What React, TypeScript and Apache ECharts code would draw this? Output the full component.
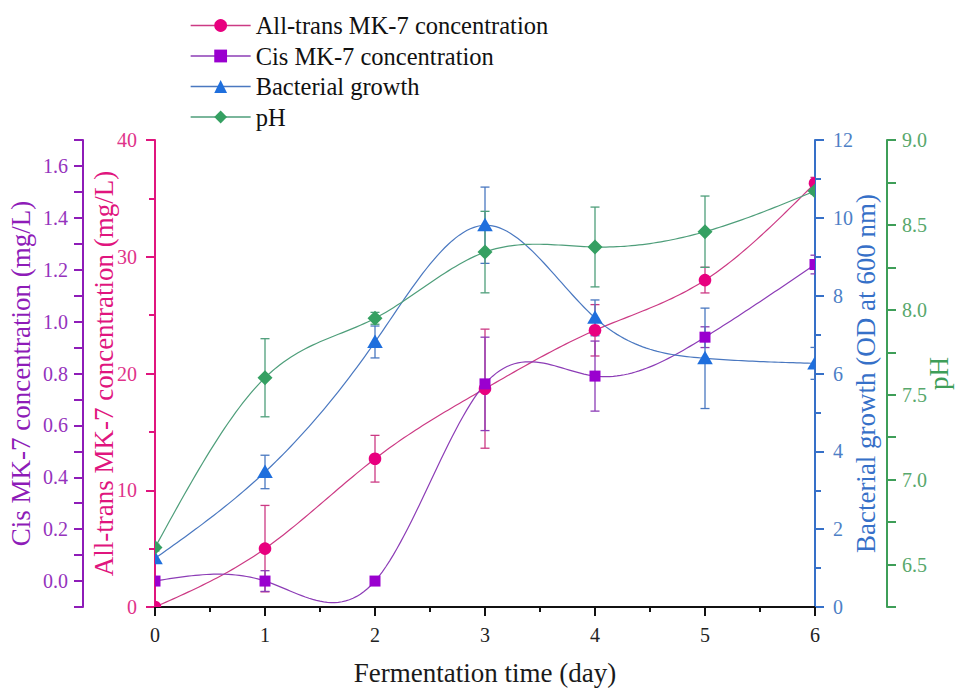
import React, { useEffect, useRef } from 'react';
import * as echarts from 'echarts';

// ---- Data ----
const days = [0, 1, 2, 3, 4, 5, 6];
const transMK7 = [0, 5.0, 12.7, 18.7, 23.7, 28.0, 36.3];
const transMK7Err = [0, 3.7, 2.0, 5.1, 2.2, 1.1, 0.5];
const cisMK7 = [0.0, 0.0, 0.0, 0.76, 0.79, 0.94, 1.22];
const cisMK7Err = [0, 0.04, 0, 0.18, 0.135, 0.04, 0.036];
const growth = [1.25, 3.47, 6.81, 9.81, 7.43, 6.39, 6.26];
const growthErr = [0, 0.43, 0.41, 0.98, 0.46, 1.29, 0.41];
const pH = [6.6, 7.6, 7.95, 8.34, 8.37, 8.46, 8.7];
const pHErr = [0.02, 0.23, 0.035, 0.24, 0.235, 0.21, 0.02];

const seriesNames = [
  'All-trans MK-7 concentration',
  'Cis MK-7 concentration',
  'Bacterial growth',
  'pH',
];

const FONT = "'Liberation Serif', 'Times New Roman', serif";

const C = {
  pink: { marker: '#E8007F', line: '#CC3A84', axis: '#E0157E', label: '#E0338A' },
  purple: { marker: '#9A00CF', line: '#8C3CB6', axis: '#8E1CB8', label: '#9533BD' },
  blue: { marker: '#1F6FDD', line: '#4A78C0', axis: '#3670C8', label: '#4D7FC6' },
  green: { marker: '#35A062', line: '#4E9E7A', axis: '#3E9E58', label: '#58A86C' },
};

// natural cubic spline through the measured points (rendering only)
function splinePoints(xs: number[], ys: number[], perSeg: number): number[][] {
  const n = xs.length;
  const h: number[] = [];
  for (let i = 0; i < n - 1; i++) h.push(xs[i + 1] - xs[i]);
  const l = new Array(n).fill(0);
  const mu = new Array(n).fill(0);
  const z = new Array(n).fill(0);
  const c = new Array(n).fill(0);
  const b = new Array(n).fill(0);
  const d = new Array(n).fill(0);
  l[0] = 1;
  for (let i = 1; i < n - 1; i++) {
    const alpha = (3 / h[i]) * (ys[i + 1] - ys[i]) - (3 / h[i - 1]) * (ys[i] - ys[i - 1]);
    l[i] = 2 * (xs[i + 1] - xs[i - 1]) - h[i - 1] * mu[i - 1];
    mu[i] = h[i] / l[i];
    z[i] = (alpha - h[i - 1] * z[i - 1]) / l[i];
  }
  l[n - 1] = 1;
  for (let j = n - 2; j >= 0; j--) {
    c[j] = z[j] - mu[j] * c[j + 1];
    b[j] = (ys[j + 1] - ys[j]) / h[j] - (h[j] * (c[j + 1] + 2 * c[j])) / 3;
    d[j] = (c[j + 1] - c[j]) / (3 * h[j]);
  }
  const out: number[][] = [];
  for (let j = 0; j < n - 1; j++) {
    for (let k = 0; k < perSeg; k++) {
      const t = (h[j] * k) / perSeg;
      out.push([xs[j] + t, ys[j] + b[j] * t + c[j] * t * t + d[j] * t * t * t]);
    }
  }
  out.push([xs[n - 1], ys[n - 1]]);
  return out;
}

type Shape = 'circle' | 'rect' | 'triangle' | 'diamond';

function markerEl(shape: Shape, cx: number, cy: number, fill: string) {
  const style = { fill };
  if (shape === 'circle') return { type: 'circle', shape: { cx, cy, r: 6.3 }, style };
  if (shape === 'rect') return { type: 'rect', shape: { x: cx - 5.5, y: cy - 5.5, width: 11, height: 11 }, style };
  if (shape === 'triangle')
    return { type: 'polygon', shape: { points: [[cx, cy - 7.5], [cx + 7.8, cy + 6], [cx - 7.8, cy + 6]] }, style };
  return { type: 'polygon', shape: { points: [[cx, cy - 7.5], [cx + 7.5, cy], [cx, cy + 7.5], [cx - 7.5, cy]] }, style };
}

export default function App() {
  const ref = useRef<HTMLDivElement>(null);

  useEffect(() => {
    if (!ref.current) return;
    const chart = echarts.init(ref.current, undefined, { renderer: 'svg' });

    const groups = [
      { name: seriesNames[0], vals: transMK7, errs: transMK7Err, axis: 0, col: C.pink, shape: 'circle' as Shape, sym: 'circle' },
      { name: seriesNames[1], vals: cisMK7, errs: cisMK7Err, axis: 1, col: C.purple, shape: 'rect' as Shape, sym: 'rect' },
      { name: seriesNames[2], vals: growth, errs: growthErr, axis: 2, col: C.blue, shape: 'triangle' as Shape, sym: 'triangle' },
      { name: seriesNames[3], vals: pH, errs: pHErr, axis: 3, col: C.green, shape: 'diamond' as Shape, sym: 'diamond' },
    ];

    const series: any[] = [];
    groups.forEach((g, gi) => {
      // legend carrier (invisible line)
      series.push({
        type: 'line',
        name: g.name,
        yAxisIndex: g.axis,
        data: days.map((d, i) => [d, g.vals[i]]),
        showSymbol: false,
        symbol: g.sym,
        symbolSize: 12,
        itemStyle: { color: g.col.marker },
        lineStyle: { opacity: 0 },
        silent: true,
        z: 1,
      });
      // smooth spline curve
      series.push({
        type: 'custom',
        name: '_curve' + gi,
        yAxisIndex: g.axis,
        clip: true,
        silent: true,
        z: 2,
        data: days.map((d, i) => [d, g.vals[i]]),
        renderItem: (params: any, api: any) => {
          if (params.dataIndex !== 0) return null;
          const pts = splinePoints(days, g.vals, 30).map((p) => api.coord(p));
          return {
            type: 'polyline',
            shape: { points: pts },
            style: { stroke: g.col.line, lineWidth: 1.2, fill: null },
          };
        },
      });
      // error bars
      series.push({
        type: 'custom',
        name: '_err' + gi,
        yAxisIndex: g.axis,
        clip: true,
        silent: true,
        z: 3,
        data: days.map((d, i) => [d, g.vals[i], g.errs[i]]),
        encode: { x: 0, y: 1 },
        renderItem: (params: any, api: any) => {
          const x = api.value(0);
          const y = api.value(1);
          const e = api.value(2);
          if (!e) return null;
          const top = api.coord([x, y + e]);
          const bot = api.coord([x, y - e]);
          const w = 4.5;
          const st = { stroke: g.col.line, lineWidth: 1.3 };
          return {
            type: 'group',
            children: [
              { type: 'line', shape: { x1: top[0], y1: top[1], x2: bot[0], y2: bot[1] }, style: st },
              { type: 'line', shape: { x1: top[0] - w, y1: top[1], x2: top[0] + w, y2: top[1] }, style: st },
              { type: 'line', shape: { x1: bot[0] - w, y1: bot[1], x2: bot[0] + w, y2: bot[1] }, style: st },
            ],
          };
        },
      });
      // markers
      series.push({
        type: 'custom',
        name: '_mk' + gi,
        yAxisIndex: g.axis,
        clip: true,
        silent: true,
        z: 4,
        data: days.map((d, i) => [d, g.vals[i]]),
        renderItem: (params: any, api: any) => {
          const p = api.coord([api.value(0), api.value(1)]);
          return markerEl(g.shape, p[0], p[1], g.col.marker);
        },
      });
    });

    const yBase = (col: any) => ({
      type: 'value',
      splitLine: { show: false },
      axisLine: { show: true, onZero: false, lineStyle: { color: col.axis, width: 2 } },
      axisTick: { show: true, inside: false, length: 9, lineStyle: { color: col.axis, width: 2 } },
      axisLabel: { color: col.label, fontSize: 20, fontFamily: FONT },
      nameLocation: 'middle',
      nameRotate: 90,
      nameMoveOverlap: false,
      nameTextStyle: { color: col.axis, fontSize: 27, fontFamily: FONT },
    });

    const option: any = {
      animation: false,
      backgroundColor: '#ffffff',
      textStyle: { fontFamily: FONT },
      legend: {
        left: 185,
        top: 8,
        orient: 'vertical',
        itemWidth: 60,
        itemHeight: 16,
        itemGap: 5.5,
        selectedMode: false,
        textStyle: { fontSize: 24.5, fontFamily: FONT, color: '#111', lineHeight: 24 },
        data: groups.map((g) => ({
          name: g.name,
          lineStyle: { color: g.col.line, width: 1.3, opacity: 1 },
          itemStyle: { color: g.col.marker },
        })),
      },
      grid: { left: 155, right: 145, top: 140, bottom: 82, containLabel: false, outerBoundsMode: 'none' },
      xAxis: {
        type: 'value',
        min: 0,
        max: 6,
        interval: 1,
        name: 'Fermentation time (day)',
        nameLocation: 'middle',
        nameGap: 52,
        nameMoveOverlap: false,
        nameTextStyle: { color: '#1a1a1a', fontSize: 27, fontFamily: FONT },
        splitLine: { show: false },
        axisLine: { show: true, onZero: false, lineStyle: { color: '#111', width: 2 } },
        axisTick: { show: true, length: 9, lineStyle: { color: '#111', width: 2 } },
        minorTick: { show: true, splitNumber: 2, length: 5, lineStyle: { color: '#111', width: 2 } },
        axisLabel: { color: '#222', fontSize: 20, fontFamily: FONT, margin: 18 },
      },
      yAxis: [
        {
          ...yBase(C.pink),
          position: 'left',
          offset: 0,
          min: 0,
          max: 40,
          interval: 10,
          name: 'All-trans MK-7 concentration (mg/L)',
          nameGap: 38,
          minorTick: { show: true, splitNumber: 2, length: 6, lineStyle: { color: C.pink.axis, width: 2 } },
          axisLabel: { color: C.pink.label, fontSize: 20, fontFamily: FONT, margin: 18 },
        },
        {
          ...yBase(C.purple),
          position: 'left',
          offset: 72,
          min: -0.1,
          max: 1.7,
          interval: 0.1,
          name: 'Cis MK-7 concentration (mg/L)',
          nameGap: 49,
          axisLabel: {
            color: C.purple.label,
            fontSize: 20,
            fontFamily: FONT,
            margin: 15,
            formatter: (v: number) => {
              const r = Math.round(v * 10);
              return r >= 0 && r % 2 === 0 ? (r / 10).toFixed(1) : '';
            },
          },
        },
        {
          ...yBase(C.blue),
          position: 'right',
          offset: 0,
          min: 0,
          max: 12,
          interval: 2,
          name: 'Bacterial growth (OD at 600 nm)',
          nameGap: 37,
          minorTick: { show: true, splitNumber: 2, length: 6, lineStyle: { color: C.blue.axis, width: 2 } },
          axisLabel: { color: C.blue.label, fontSize: 20, fontFamily: FONT, margin: 18 },
        },
        {
          ...yBase(C.green),
          position: 'right',
          offset: 72,
          min: 6.25,
          max: 9.0,
          interval: 0.25,
          name: 'pH',
          nameGap: 38,
          axisLabel: {
            color: C.green.label,
            fontSize: 20,
            fontFamily: FONT,
            margin: 15,
            formatter: (v: number) => {
              const r = Math.round(v * 4);
              return r % 2 === 0 ? (r / 4).toFixed(1) : '';
            },
          },
        },
      ],
      series,
    };

    chart.setOption(option);
    return () => chart.dispose();
  }, []);

  return (
    <div
      ref={ref}
      style={{ position: 'fixed', left: 0, top: 0, width: 960, height: 689, background: '#fff' }}
    />
  );
}
